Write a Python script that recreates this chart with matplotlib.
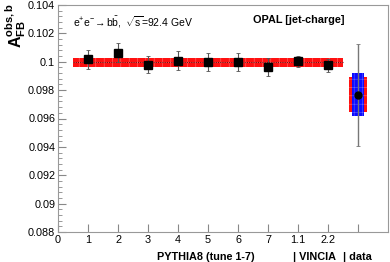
import numpy as np
import matplotlib
matplotlib.use('Agg')
import matplotlib.pyplot as plt
from matplotlib.patches import Rectangle
from matplotlib.ticker import MultipleLocator, FixedLocator

plt.rcParams['font.family'] = ['Liberation Sans', 'DejaVu Sans']
plt.rcParams['mathtext.fontset'] = 'custom'
plt.rcParams['mathtext.rm'] = 'Liberation Sans'
plt.rcParams['mathtext.bf'] = 'Liberation Sans:bold'
plt.rcParams['mathtext.it'] = 'Liberation Sans'
plt.rcParams['hatch.linewidth'] = 0.35

# MC predictions (PYTHIA8 tunes 1-7, VINCIA 1.1 / 2.2)
tune_labels = ['1', '2', '3', '4', '5', '6', '7', '1.1', '2.2']
mc_vals = [0.10019, 0.10064, 0.09979, 0.10008, 0.09998, 0.09998, 0.09961, 0.10002, 0.09975]
mc_errs = [0.00067, 0.00065, 0.00061, 0.00065, 0.00062, 0.00062, 0.00064, 0.00040, 0.00044]

# mean of MC and its spread
mc_mean = 0.09997
mc_band = 0.00032

# OPAL data
data_val = 0.09768
data_stat = 0.00125
data_syst = 0.00153
data_tot = 0.0036

fig = plt.figure(figsize=(3.9, 2.62), dpi=100)
ax = fig.add_axes([58/390., 30/262., 330/390., 227/262.])

x = np.arange(1, len(mc_vals) + 1)
x_data = len(mc_vals) + 1

# MC band
ax.add_patch(Rectangle((0.5, mc_mean - mc_band), len(mc_vals), 2*mc_band,
	facecolor='#ff1010', edgecolor='#ff8080', hatch='++', linewidth=0, zorder=1))
ax.plot([0.5, len(mc_vals) + 0.5], [mc_mean, mc_mean], color='#6a1010', lw=0.8, ls=(0, (1, 1)), zorder=2)

# data boxes
ax.add_patch(Rectangle((x_data - 0.31, data_val - data_stat), 0.62, 2*data_stat,
	facecolor='#ff1010', edgecolor='#ff8080', hatch='++', linewidth=0, zorder=1))
ax.add_patch(Rectangle((x_data - 0.2, data_val - data_syst), 0.4, 2*data_syst,
	facecolor='#0a0aff', edgecolor='#6a6aff', hatch='++', linewidth=0, zorder=2))

ax.errorbar(x, mc_vals, yerr=mc_errs, fmt='s', color='black', ms=5.5,
	ecolor='#555555', elinewidth=0.8, capsize=1.5, capthick=0.6, zorder=4)
ax.errorbar([x_data], [data_val], yerr=[data_tot], fmt='o', color='black', ms=5,
	ecolor='#777777', elinewidth=1.0, capsize=1.5, capthick=0.6, zorder=4)

ax.set_xlim(0, 11)
ax.set_ylim(0.088, 0.104)

ax.xaxis.set_major_locator(FixedLocator(range(0, 11)))
ax.set_xticklabels(['0'] + tune_labels + [''])
ax.set_yticks(np.arange(0.088, 0.1041, 0.002))
ax.set_yticklabels(['0.088', '0.09', '0.092', '0.094', '0.096', '0.098', '0.1', '0.102', '0.104'])
ax.yaxis.set_minor_locator(MultipleLocator(0.0004))

ax.tick_params(axis='both', which='both', direction='in', color='#888888', labelsize=7.8, pad=2)
ax.tick_params(axis='y', which='major', length=6)
ax.tick_params(axis='y', which='minor', length=3)
ax.tick_params(axis='x', which='major', length=6)
for s in ax.spines.values():
	s.set_color('#999999')
	s.set_linewidth(0.8)

# labels
fig.text(3/390., 1 - 3/262., r'$\mathbf{A_{FB}^{obs,b}}$', rotation=90, ha='left', va='top', fontsize=11.5)
ax.text(0.045, 0.955, r'$\mathregular{e^{+}e^{-}\!\rightarrow b\bar{b},\ \sqrt{s}}$=92.4 GeV',
	transform=ax.transAxes, fontsize=7.5, ha='left', va='top')
ax.text(0.73, 0.955, 'OPAL [jet-charge]', transform=ax.transAxes, fontsize=7.8,
	fontweight='bold', ha='center', va='top')

tr = ax.get_xaxis_transform()
ax.text(4.93, -0.09, 'PYTHIA8 (tune 1-7)', transform=tr, fontsize=7.8, fontweight='bold', ha='center', va='top')
ax.text(7.83, -0.09, '| VINCIA', transform=tr, fontsize=7.8, fontweight='bold', ha='left', va='top')
ax.text(9.5, -0.09, '| data', transform=tr, fontsize=7.8, fontweight='bold', ha='left', va='top')

fig.savefig('out.png', dpi=100)
